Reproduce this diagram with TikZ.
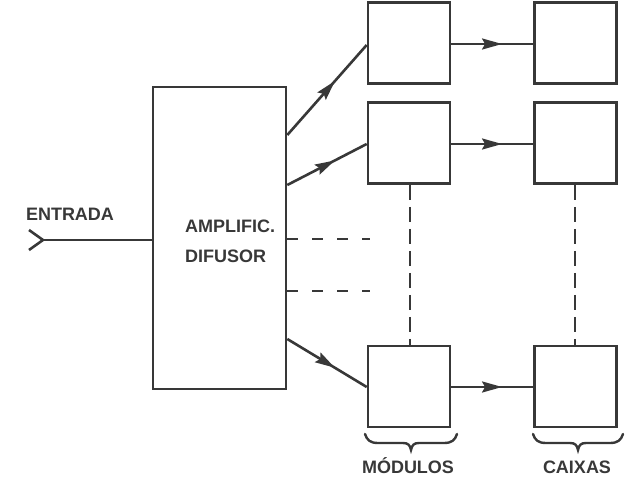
\documentclass[tikz,border=0pt]{standalone}
\usepackage{fontspec}
\setmainfont{Liberation Sans}
\usetikzlibrary{arrows.meta,calc}
\definecolor{ink}{HTML}{383838}
\tikzset{
  blk/.style={draw=ink,line width=2.6pt,rectangle,inner sep=0pt},
  modbox/.style={blk,minimum width=82pt,minimum height=81pt},
  conn/.style={draw=ink,line width=2.6pt},
  headtip/.style={conn,-{Stealth[length=20pt,width=11pt,inset=3pt]}},
  hdash/.style={conn,dash pattern=on 11pt off 14pt},
  vdash/.style={conn,dash pattern=on 15pt off 7pt},
  lbl/.style={text=ink,font=\fontsize{18}{21}\selectfont\bfseries,inner sep=0pt},
  bracesty/.style={draw=ink,line width=2.4pt,line cap=round}
}
\begin{document}
\begin{tikzpicture}[x=1pt,y=-1pt]
\path[use as bounding box] (0,0) rectangle (640,500);
% main blocks
\node[blk,minimum width=133pt,minimum height=302pt] (amp) at (219.5,238) {};
\node[modbox] (m1) at (409,43) {};
\node[modbox] (m2) at (409,143) {};
\node[modbox] (m3) at (409,386.5) {};
\node[modbox] (c1) at (575.5,43) {};
\node[modbox] (c2) at (575.5,143) {};
\node[modbox] (c3) at (575.5,386.5) {};
% texts
\node[lbl,anchor=base] (ent) at (70,220) {ENTRADA};
\node[lbl,anchor=base west] (t1) at (185,232) {AMPLIFIC.};
\node[lbl,anchor=base west] (t2) at (185,262) {DIFUSOR};
\node[lbl,anchor=base] (lm) at (408,473) {MÓDULOS};
\node[lbl,anchor=base] (lc) at (577,473) {CAIXAS};
% input
\coordinate (tip) at (43,240);
\coordinate (fu) at (29,230);
\coordinate (fd) at (29,250);
\draw[conn] (tip) -- (amp.west |- tip);
\draw[conn,line join=miter] (fu) -- (tip) -- (fd);
% arrow end points
\coordinate (s1) at (amp.east |- 0,135);
\coordinate (s2) at (amp.east |- 0,185);
\coordinate (s3) at (amp.east |- 0,339);
\coordinate (e1) at (m1.west |- 0,45);
\coordinate (e2) at (m2.west |- 0,144);
\coordinate (e3) at (m3.west |- 0,387);
\coordinate (h1) at (m1.east |- 0,44);
\coordinate (h2) at (m2.east |- 0,144);
\coordinate (h3) at (m3.east |- 0,387);
\coordinate (k1) at (c1.west |- 0,44);
\coordinate (k2) at (c2.west |- 0,144);
\coordinate (k3) at (c3.west |- 0,387);
% diagonal arrows
\foreach \a/\b in {s1/e1,s2/e2,s3/e3}{
  \draw[headtip] (\a) -- ($(\a)!0.6!(\b)$);
  \draw[conn] ($(\a)!0.55!(\b)$) -- (\b);
}
% horizontal arrows
\foreach \a/\b in {h1/k1,h2/k2,h3/k3}{
  \draw[headtip] (\a) -- ($(\a)!0.62!(\b)$);
  \draw[conn] ($(\a)!0.57!(\b)$) -- (\b);
}
% dashed lines
\coordinate (d1) at (370,239);
\coordinate (d2) at (370,291);
\draw[hdash] (amp.east |- d1) -- (d1);
\draw[hdash] (amp.east |- d2) -- (d2);
\draw[vdash] ([xshift=1pt]m2.south) -- ([xshift=1pt]m3.north);
\draw[vdash] ([xshift=-0.5pt]c2.south) -- ([xshift=-0.5pt]c3.north);
% braces
\draw[bracesty] (365,434) .. controls (367,440) and (370,443) .. (378,443) -- (403,443)
  .. controls (408,443) and (410,445) .. (411,450) .. controls (412,445) and (414,443) .. (419,443)
  -- (444,443) .. controls (452,443) and (455,440) .. (457,434);
\draw[bracesty] (533,434) .. controls (535,440) and (538,443) .. (546,443) -- (570,443)
  .. controls (575,443) and (577,445) .. (578,450) .. controls (579,445) and (581,443) .. (586,443)
  -- (610,443) .. controls (618,443) and (621,440) .. (623,434);
\end{tikzpicture}
\end{document}
